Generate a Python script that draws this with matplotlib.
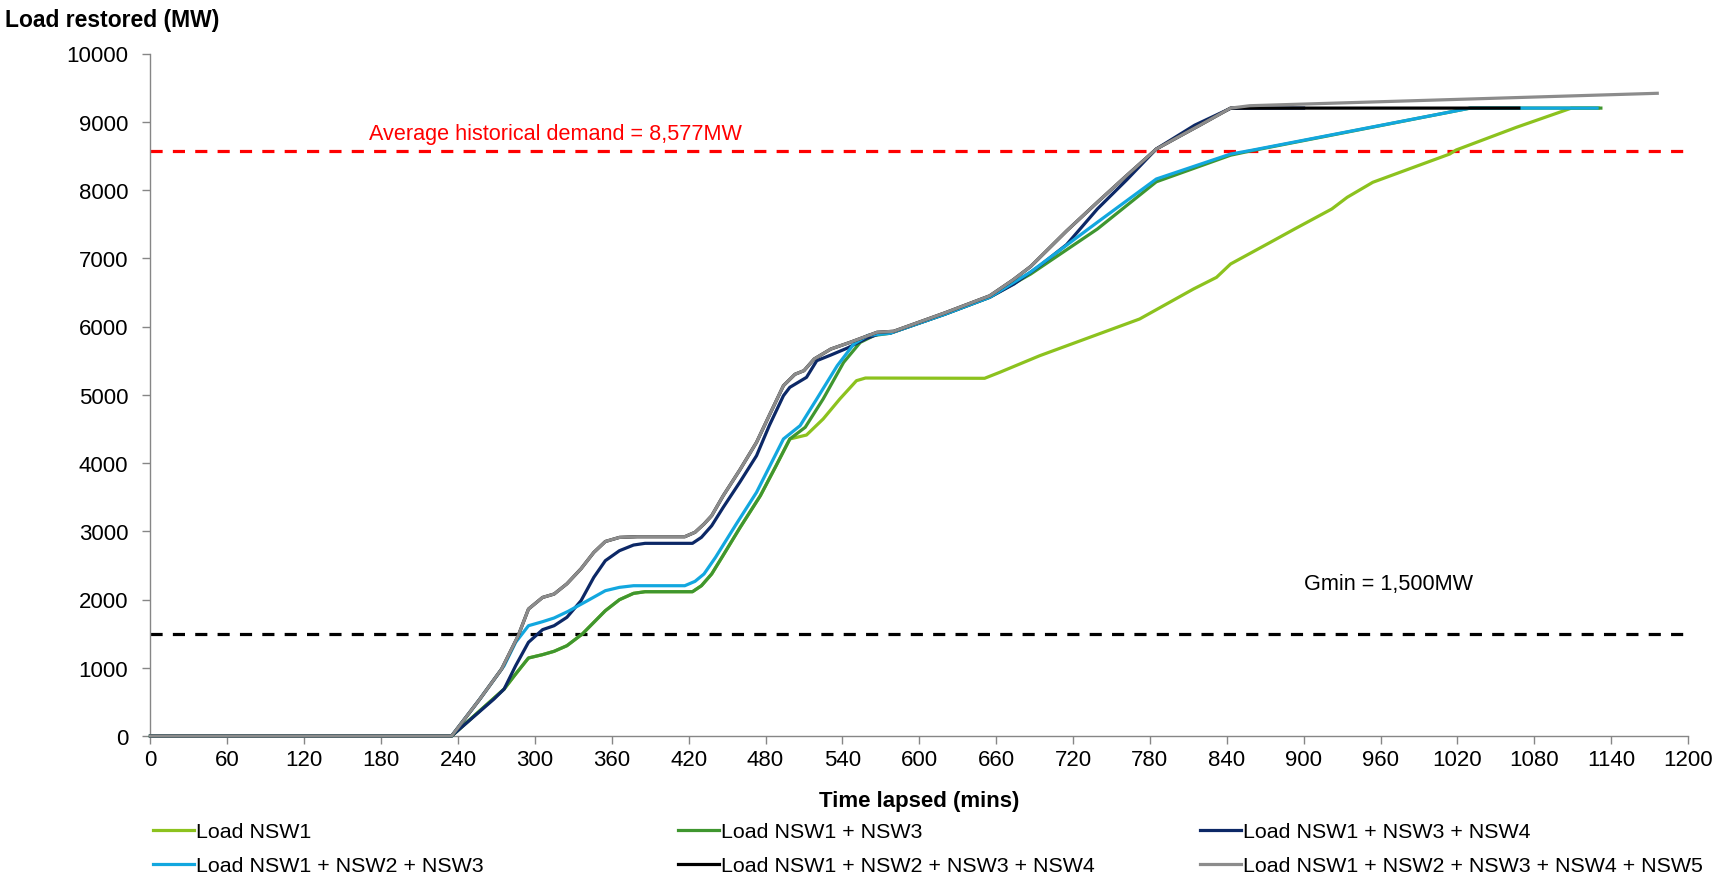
import matplotlib.pyplot as plt

plt.rcParams['font.family'] = ['Liberation Sans', 'DejaVu Sans']

# Время, мин / нагрузка, МВт
nsw1_t = [0, 235, 276, 285, 295, 306, 315, 325, 337, 355, 366, 377, 386, 423, 430, 438, 446, 460, 476, 488, 499,
          512, 525, 538, 551, 558, 651, 663, 694, 772, 814, 832, 843, 874, 893, 922, 934, 954, 1014, 1019, 1066, 1109, 1130]
nsw1_v = [0, 0, 688, 908, 1143, 1192, 1241, 1323, 1494, 1836, 1997, 2090, 2114, 2114, 2202, 2374, 2618, 3050, 3521, 3950, 4352,
          4410, 4645, 4938, 5206, 5245, 5241, 5330, 5572, 6110, 6549, 6720, 6916, 7233, 7429, 7722, 7893, 8113, 8527, 8586, 8918, 9200, 9200]

nsw13_t = [0, 235, 276, 285, 295, 306, 315, 325, 337, 355, 366, 377, 386, 423, 430, 438, 446, 460, 476, 488, 499,
           511, 525, 541, 554, 565, 577, 620, 655, 687, 739, 785, 843, 858, 1030, 1132]
nsw13_v = [0, 0, 688, 908, 1143, 1192, 1241, 1323, 1494, 1836, 1997, 2090, 2114, 2114, 2202, 2374, 2618, 3050, 3521, 3950, 4352,
           4523, 4938, 5475, 5768, 5870, 5900, 6180, 6428, 6769, 7428, 8120, 8510, 8570, 9200, 9200]

nsw134_t = [0, 235, 268, 276, 285, 295, 306, 315, 325, 336, 346, 355, 366, 377, 386, 423, 430, 438, 447, 460, 473, 483, 494,
            499, 512, 520, 531, 544, 559, 570, 577, 620, 655, 674, 694, 715, 739, 762, 785, 815, 843, 900]
nsw134_v = [0, 0, 540, 688, 1030, 1373, 1558, 1616, 1739, 1982, 2325, 2569, 2715, 2798, 2823, 2823, 2911, 3081, 3350, 3720, 4107, 4550, 4986,
            5109, 5255, 5499, 5582, 5685, 5827, 5900, 5900, 6180, 6428, 6623, 6890, 7200, 7722, 8150, 8601, 8950, 9197, 9200]

nsw123_t = [0, 235, 257, 276, 285, 295, 306, 315, 326, 341, 355, 366, 377, 417, 425, 432, 441, 457, 473, 494, 507, 520,
            536, 549, 560, 577, 620, 655, 687, 739, 785, 843, 858, 1030, 1129]
nsw123_v = [0, 0, 540, 1030, 1373, 1616, 1675, 1729, 1827, 1982, 2129, 2178, 2202, 2202, 2266, 2374, 2618, 3100, 3570, 4352, 4547, 4938,
            5426, 5744, 5870, 5900, 6180, 6428, 6800, 7527, 8161, 8527, 8577, 9200, 9200]

nsw1234_t = [0, 235, 257, 274, 287, 295, 306, 315, 325, 336, 346, 355, 366, 380, 417, 425, 432, 438, 447, 460, 473, 483, 494,
             503, 510, 518, 531, 546, 567, 580, 620, 655, 673, 687, 715, 739, 760, 785, 800, 820, 843, 1068]
nsw1234_v = [0, 0, 540, 980, 1470, 1860, 2030, 2080, 2230, 2450, 2690, 2850, 2910, 2920, 2920, 2985, 3106, 3228, 3521, 3900, 4303, 4700, 5133,
             5300, 5353, 5524, 5670, 5768, 5915, 5930, 6200, 6450, 6680, 6880, 7400, 7820, 8180, 8600, 8755, 8960, 9200, 9200]

nsw12345_t = [0, 235, 257, 274, 287, 295, 306, 315, 325, 336, 346, 355, 366, 380, 417, 425, 432, 438, 447, 460, 473, 483, 494,
              503, 510, 518, 531, 546, 567, 580, 620, 655, 673, 687, 715, 739, 760, 785, 800, 820, 843, 858, 1176]
nsw12345_v = [0, 0, 540, 980, 1470, 1860, 2030, 2080, 2230, 2450, 2690, 2850, 2910, 2920, 2920, 2985, 3106, 3228, 3521, 3900, 4303, 4700, 5133,
              5300, 5353, 5524, 5670, 5768, 5915, 5930, 6200, 6450, 6680, 6880, 7400, 7820, 8180, 8600, 8755, 8960, 9200, 9235, 9417]

avg_demand = 8577
gmin = 1500

series = [
    (nsw1_t, nsw1_v, 'Load NSW1', '#8cc21e'),
    (nsw13_t, nsw13_v, 'Load NSW1 + NSW3', '#3f962f'),
    (nsw134_t, nsw134_v, 'Load NSW1 + NSW3 + NSW4', '#0c2866'),
    (nsw123_t, nsw123_v, 'Load NSW1 + NSW2 + NSW3', '#12a7df'),
    (nsw1234_t, nsw1234_v, 'Load NSW1 + NSW2 + NSW3 + NSW4', '#000000'),
    (nsw12345_t, nsw12345_v, 'Load NSW1 + NSW2 + NSW3 + NSW4 + NSW5', '#8c8c8c'),
]

W, H = 1715, 878
fig = plt.figure(figsize=(W / 100, H / 100), dpi=100)
ax = fig.add_axes([150.5 / W, 1 - 737 / H, (1688 - 150.5) / W, (737 - 54.5) / H])

handles = []
for t, v, name, col in series:
    ln, = ax.plot(t, v, color=col, lw=2.3, label=name, clip_on=False, zorder=3)
    handles.append(ln)

# пунктирные линии
ax.axhline(avg_demand, color='#ff0000', lw=2.3, dashes=(3.8, 3.2), zorder=2)
ax.axhline(gmin, color='black', lw=2.3, dashes=(3.8, 3.2), zorder=2)

ax.text(316, 8830, 'Average historical demand = 8,577MW', color='#ff0000', fontsize=15.6,
        ha='center', va='center')
ax.text(966, 2230, 'Gmin = 1,500MW', color='black', fontsize=15.6, ha='center', va='center')

ax.set_xlim(0, 1200)
ax.set_ylim(0, 10000)
ax.set_xticks(range(0, 1201, 60))
ax.set_yticks(range(0, 10001, 1000))
for s in ['top', 'right']:
    ax.spines[s].set_visible(False)
for s in ['left', 'bottom']:
    ax.spines[s].set_color('#868686')
    ax.spines[s].set_linewidth(1.0)
ax.tick_params(axis='both', colors='#868686', labelcolor='black', labelsize=16, length=6, width=1)
ax.tick_params(axis='y', pad=10)
ax.tick_params(axis='x', pad=3.5)

ax.set_xlabel('Time lapsed (mins)', fontsize=16, fontweight='bold', labelpad=14)
fig.text(5 / W, 1 - 20 / H, 'Load restored (MW)', fontsize=16.5, fontweight='bold', ha='left', va='center')

# легенда: три колонки по две строки
col_x = [153, 678, 1200]
for i, x in enumerate(col_x):
    hh = [handles[i], handles[i + 3]]
    fig.legend(hh, [h.get_label() for h in hh], loc='upper left',
               bbox_to_anchor=(x / W, 1 - 823 / H), frameon=False, fontsize=15.4,
               borderpad=0, borderaxespad=0, handlelength=1.9, handletextpad=0.1,
               labelspacing=0.72)

fig.savefig('out.png', dpi=100)
